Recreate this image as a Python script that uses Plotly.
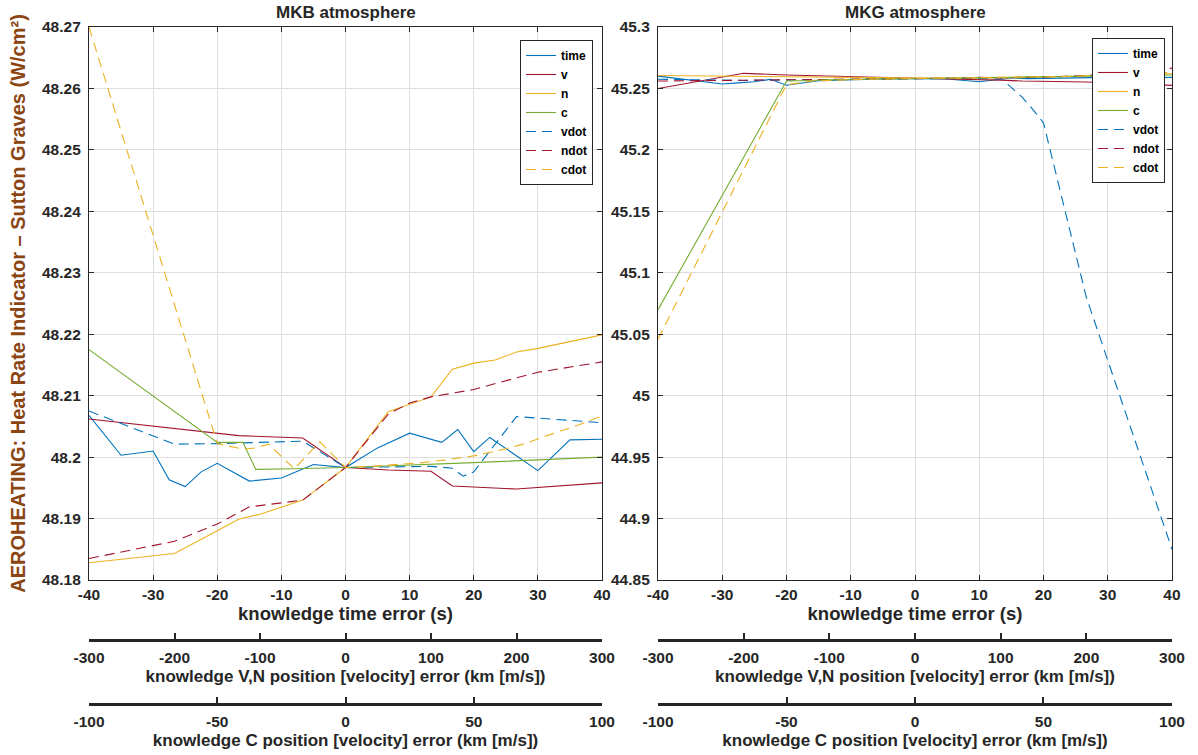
import plotly.graph_objects as go

# ---------------- data ----------------
# x values in native units of each axis
time_s = [-40, -35, -30, -27.5, -25, -22.5, -20, -15, -10, -5, 0, 5, 10, 15, 17.5, 20, 22.5, 30, 35, 40]
v_km = [-300, -200, -150, -125, -50, 0, 50, 100, 125, 200, 300]
n_km = [-300, -200, -150, -125, -100, -50, 0, 50, 100, 125, 150, 175, 200, 225, 300]
vdot_km = [-300, -200, -150, -50, 0, 50, 100, 125, 137.5, 150, 200, 300]
ndot_km = [-300, -200, -150, -112.5, -50, 0, 50, 75, 100, 150, 200, 225, 300]
c_km = [-100, -50, -40, -35, -20, 0, 50, 100]
cdot_km = [-100, -50, -40, -35, -30, -20, -10, 0, 10, 20, 30, 40, 50, 60, 70, 80, 90, 100]

# MKB atmosphere
time_mkb = [48.2068, 48.2003, 48.2010, 48.1963, 48.1952, 48.1976, 48.1990, 48.1961, 48.1966, 48.1988,
            48.1983, 48.2015, 48.2039, 48.2024, 48.2045, 48.2009, 48.2032, 48.1978, 48.2028, 48.2029]
v_mkb = [48.2062, 48.2046, 48.2039, 48.2035, 48.2031, 48.1983, 48.1979, 48.1977, 48.1953, 48.1948, 48.1958]
n_mkb = [48.1828, 48.1843, 48.1880, 48.1899, 48.1907, 48.1930, 48.1983, 48.2074, 48.2098, 48.2143,
         48.2153, 48.2158, 48.2171, 48.2177, 48.2199]
vdot_mkb = [48.2075, 48.2021, 48.2022, 48.2026, 48.1983, 48.1984, 48.1985, 48.1982, 48.1969, 48.1976, 48.2066, 48.2056]
ndot_mkb = [48.1835, 48.1863, 48.1891, 48.1919, 48.1930, 48.1983, 48.2070, 48.2088, 48.2098, 48.2110,
            48.2129, 48.2138, 48.2155]
c_mkb = [48.2175, 48.2024, 48.2024, 48.1980, 48.1981, 48.1983, 48.1991, 48.2000]
cdot_mkb = [48.2700, 48.2022, 48.2013, 48.2015, 48.2021, 48.1981, 48.2025, 48.1983, 48.1985, 48.1988,
            48.1991, 48.1996, 48.2002, 48.2011, 48.2022, 48.2037, 48.2051, 48.2067]

# MKG atmosphere
time_mkg = [45.2600, 45.2570, 45.2536, 45.2545, 45.2555, 45.2574, 45.2526, 45.2563, 45.2572, 45.2578,
            45.2580, 45.2577, 45.2555, 45.2585, 45.2580, 45.2582, 45.2585, 45.2590, 45.2585, 45.2590]
v_mkg = [45.2500, 45.2623, 45.2610, 45.2605, 45.2592, 45.2580, 45.2575, 45.2568, 45.2560, 45.2552, 45.2525]
n_mkg = [45.2605, 45.2598, 45.2592, 45.2590, 45.2588, 45.2584, 45.2580, 45.2582, 45.2585, 45.2588,
         45.2592, 45.2596, 45.2600, 45.2605, 45.2620]
vdot_mkg = [45.2575, 45.2565, 45.2570, 45.2575, 45.2580, 45.2580, 45.2585, 45.2430, 45.2330, 45.2220, 45.0800, 44.8750]
ndot_mkg = [45.2560, 45.2565, 45.2568, 45.2575, 45.2578, 45.2580, 45.2585, 45.2590, 45.2588, 45.2592,
            45.2605, 45.2620, 45.2665]
c_mkg = [45.0700, 45.2560, 45.2565, 45.2570, 45.2575, 45.2580, 45.2595, 45.2610]
cdot_mkg = [45.0460, 45.2530, 45.2560, 45.2565, 45.2570, 45.2575, 45.2578, 45.2580, 45.2582, 45.2585,
            45.2588, 45.2591, 45.2594, 45.2598, 45.2605, 45.2612, 45.2620, 45.2630]

time_ticks = [-40, -30, -20, -10, 0, 10, 20, 30, 40]
time_labels = ["-40", "-30", "-20", "-10", "0", "10", "20", "30", "40"]
vn_ticks = [-300, -200, -100, 0, 100, 200, 300]
vn_labels = ["-300", "-200", "-100", "0", "100", "200", "300"]
c_ticks = [-100, -50, 0, 50, 100]
c_labels = ["-100", "-50", "0", "50", "100"]
mkb_ticks = [48.18, 48.19, 48.20, 48.21, 48.22, 48.23, 48.24, 48.25, 48.26, 48.27]
mkb_labels = ["48.18", "48.19", "48.2", "48.21", "48.22", "48.23", "48.24", "48.25", "48.26", "48.27"]
mkg_ticks = [44.85, 44.90, 44.95, 45.00, 45.05, 45.10, 45.15, 45.20, 45.25, 45.30]
mkg_labels = ["44.85", "44.9", "44.95", "45", "45.05", "45.1", "45.15", "45.2", "45.25", "45.3"]

# ---------------- styling ----------------
FONT = "Liberation Sans"
AX = "#262626"
GRID = "#dedede"
BLUE, RED, YEL, GRN = "#0072BD", "#A2142F", "#EDB120", "#77AC30"
DASH = "10px,6px"
LW = 1.1

fig = go.Figure()

def panel(xt, xvn, xc, yax, leg, d):
    specs = [
        ("time", time_s, d["time"], xt, BLUE, "solid"),
        ("v", v_km, d["v"], xvn, RED, "solid"),
        ("n", n_km, d["n"], xvn, YEL, "solid"),
        ("c", c_km, d["c"], xc, GRN, "solid"),
        ("vdot", vdot_km, d["vdot"], xvn, BLUE, DASH),
        ("ndot", ndot_km, d["ndot"], xvn, RED, DASH),
        ("cdot", cdot_km, d["cdot"], xc, YEL, DASH),
    ]
    for name, xs, ys, xa, col, dash in specs:
        fig.add_trace(go.Scatter(x=xs, y=ys, name=name, mode="lines", xaxis=xa, yaxis=yax,
                                 legend=leg, line=dict(color=col, width=LW, dash=dash),
                                 hoverinfo="skip"))

panel("x", "x3", "x4", "y", "legend",
      dict(time=time_mkb, v=v_mkb, n=n_mkb, c=c_mkb, vdot=vdot_mkb, ndot=ndot_mkb, cdot=cdot_mkb))
panel("x2", "x5", "x6", "y2", "legend2",
      dict(time=time_mkg, v=v_mkg, n=n_mkg, c=c_mkg, vdot=vdot_mkg, ndot=ndot_mkg, cdot=cdot_mkg))

tickfont = dict(family=FONT, size=15.5, color=AX, weight="bold")
titlefont = dict(family=FONT, size=17, color=AX, weight="bold")
timetitlefont = dict(family=FONT, size=18.5, color=AX, weight="bold")

L_DOM = [0.0, 0.4737]
R_DOM = [0.5254, 1.0]
Y_DOM = [0.2298, 1.0]
POS_VN = 0.1462
POS_C = 0.0571

def main_x(dom, anchor):
    return dict(domain=dom, anchor=anchor, range=[-40, 40], tickvals=time_ticks, ticktext=time_labels,
                showgrid=True, gridcolor=GRID, gridwidth=1, zeroline=False,
                showline=True, linecolor=AX, linewidth=1.2, mirror="ticks",
                ticks="inside", ticklen=5, tickcolor=AX, tickfont=tickfont,
                title=dict(text="knowledge time error (s)", font=timetitlefont, standoff=4),
                automargin=False)

def main_y(rng, tv, tt, anchor, title=None):
    d = dict(domain=Y_DOM, anchor=anchor, range=rng, tickvals=tv, ticktext=tt,
             showgrid=True, gridcolor=GRID, gridwidth=1, zeroline=False,
             showline=True, linecolor=AX, linewidth=1.2, mirror="ticks",
             ticks="inside", ticklen=5, tickcolor=AX, tickfont=tickfont,
             ticklabelstandoff=4, automargin=False)
    if title:
        d["title"] = dict(text=title, font=dict(family=FONT, size=20, color="#8B4513", weight="bold"),
                          standoff=11)
    return d

def free_x(dom, over, rng, tv, tt, pos, title):
    return dict(domain=dom, overlaying=over, anchor="free", position=pos, side="bottom",
                range=rng, tickvals=tv, ticktext=tt, showgrid=False, zeroline=False,
                showline=True, linecolor=AX, linewidth=2.5,
                ticks="inside", ticklen=6, tickwidth=1.5, tickcolor=AX, tickfont=tickfont,
                ticklabelstandoff=3,
                title=dict(text=title, font=titlefont, standoff=4), automargin=False)

VN_T = "knowledge V,N position [velocity] error (km [m/s])"
C_T = "knowledge C position [velocity] error (km [m/s])"

legend_style = dict(bordercolor=AX, borderwidth=1, bgcolor="white",
                    font=dict(family=FONT, size=12, color="#000000", weight="bold"),
                    tracegroupgap=0, itemwidth=30, xanchor="right", yanchor="top")

fig.update_layout(
    width=1198, height=755,
    margin=dict(l=89, r=26, t=27, b=10),
    paper_bgcolor="white", plot_bgcolor="white",
    font=dict(family=FONT, color=AX),
    showlegend=True,
    xaxis=main_x(L_DOM, "y"),
    xaxis2=main_x(R_DOM, "y2"),
    yaxis=main_y([48.18, 48.27], mkb_ticks, mkb_labels, "x",
                 "AEROHEATING: Heat Rate Indicator – Sutton Graves (W/cm²)"),
    yaxis2=main_y([44.85, 45.3], mkg_ticks, mkg_labels, "x2"),
    xaxis3=free_x(L_DOM, "x", [-300, 300], vn_ticks, vn_labels, POS_VN, VN_T),
    xaxis4=free_x(L_DOM, "x", [-100, 100], c_ticks, c_labels, POS_C, C_T),
    xaxis5=free_x(R_DOM, "x2", [-300, 300], vn_ticks, vn_labels, POS_VN, VN_T),
    xaxis6=free_x(R_DOM, "x2", [-100, 100], c_ticks, c_labels, POS_C, C_T),
    legend=dict(x=0.4654, y=0.9819, **legend_style),
    legend2=dict(x=0.9935, y=0.9847, **legend_style),
    annotations=[
        dict(text="MKB atmosphere", x=(L_DOM[0] + L_DOM[1]) / 2, y=1, xref="paper", yref="paper",
             xanchor="center", yanchor="bottom", yshift=3, showarrow=False, font=titlefont),
        dict(text="MKG atmosphere", x=(R_DOM[0] + R_DOM[1]) / 2, y=1, xref="paper", yref="paper",
             xanchor="center", yanchor="bottom", yshift=3, showarrow=False, font=titlefont),
    ],
)

# remove the default page margin so the figure sits at the window's top-left corner
fig.write_html("out.html", config={"displayModeBar": False},
               post_script="document.body.style.margin='0px';")
